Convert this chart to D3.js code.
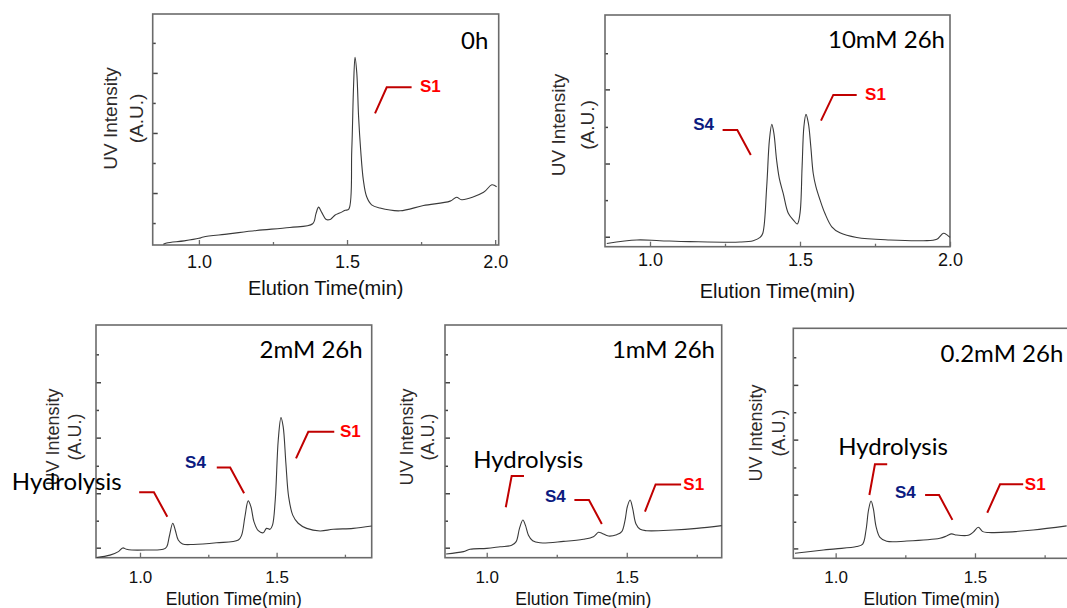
<!DOCTYPE html>
<html><head><meta charset="utf-8">
<script src="https://cdn.jsdelivr.net/npm/d3@7"></script>
<style>html,body{margin:0;padding:0;background:#fff;overflow:hidden}</style>
</head><body><svg id="c" width="1067" height="608"></svg>
<script>
// ---------- DATA (elution time in min, UV intensity in % of panel height) ----------
const titles = ["0h", "10mM 26h", "2mM 26h", "1mM 26h", "0.2mM 26h"];
const xTickLabelsTop = [1.0, 1.5, 2.0];
const xTickLabelsBottom = [1.0, 1.5];
const xMinorTicks = [1.25, 1.75];

const time0h = [0.880,0.891,0.95,1.000,1.015,1.10,1.195,1.307,1.384,1.395,1.404,1.415,1.430,1.445,1.460,1.475,1.494,1.506,1.516,1.522,1.527,1.533,1.539,1.546,1.555,1.566,1.583,1.611,1.679,1.758,1.848,1.870,1.887,1.961,1.989,2.005];
const uv0h   = [0.3,0.9,1.8,2.9,3.5,4.8,6.3,7.6,9.2,13.5,16.4,14.0,11.0,11.2,13.0,13.8,15.0,15.5,41,68.6,81.3,74.4,55.6,41.2,28.2,21.0,17.4,16.0,14.8,17.1,19.0,20.7,19.6,22.8,26.1,25.2];

const time10mM = [0.856,0.956,1.033,1.133,1.300,1.344,1.367,1.376,1.389,1.398,1.406,1.413,1.422,1.431,1.444,1.461,1.478,1.491,1.500,1.507,1.513,1.520,1.528,1.536,1.544,1.553,1.567,1.583,1.606,1.633,1.689,1.800,1.911,1.956,1.978,1.991,2.000];
const uv10mM   = [1.4,2.9,2.6,2.2,2.0,2.6,4.0,5.8,25.9,46,52.8,48.9,37.4,29.5,23.0,14.4,11.5,9.8,14.4,34.5,51.8,57.1,53.2,43.2,31.7,25.9,20.1,14.4,8.6,6.0,4.0,2.9,2.6,3.2,5.8,5.0,4.0];

const time2mM = [0.841,0.890,0.921,0.937,0.951,0.970,1.024,1.085,1.098,1.107,1.120,1.129,1.140,1.156,1.195,1.280,1.360,1.372,1.384,1.396,1.406,1.417,1.433,1.451,1.463,1.476,1.485,1.495,1.506,1.516,1.524,1.534,1.544,1.559,1.579,1.610,1.659,1.707,1.780,1.848];
const uv2mM   = [0.1,1.1,2.6,4.2,3.6,3.3,3.3,3.6,4.7,9.0,14.8,11.9,7.6,5.9,5.7,6.4,7.6,9.7,17.6,24.4,21.9,15.5,11.6,10.7,12.6,12.2,14.0,24.8,50.6,60.2,56.3,40.5,26.2,18.3,14.8,12.6,11.5,12.2,12.6,13.6];

const time1mM = [0.855,0.917,0.940,1.000,1.048,1.089,1.105,1.117,1.129,1.138,1.149,1.164,1.190,1.274,1.345,1.381,1.399,1.411,1.435,1.464,1.482,1.494,1.502,1.512,1.521,1.533,1.548,1.571,1.667,1.750,1.839];
const uv1mM   = [1.6,2.6,3.6,4.0,4.7,5.3,6.9,12.6,16.2,14.0,9.7,7.3,6.4,7.0,7.9,9.0,10.9,10.5,9.3,9.9,11.2,16.2,21.9,24.8,21.2,14.5,12.2,11.6,11.9,12.6,13.8];

const time02mM = [0.854,0.956,1.000,1.075,1.097,1.109,1.118,1.127,1.135,1.145,1.159,1.183,1.255,1.374,1.398,1.416,1.434,1.476,1.494,1.512,1.528,1.548,1.614,1.709,1.829];
const uv02mM   = [2.2,3.6,4.1,5.1,6.2,12.3,21.0,24.9,21.7,13.8,9.1,7.4,7.5,8.7,9.7,10.6,10.1,10.0,11.4,13.5,11.6,11.2,11.4,12.3,14.1];

// annotation callouts: label, label anchor [time, intensity], leader polyline [[time, intensity], ...]
const ann0h = [
  {label:"S1", at:[1.746,66.4], line:[[1.5945,57.0],[1.634,68.3],[1.718,68.3]]}
];
const ann10mM = [
  {label:"S1", at:[1.717,63.3], line:[[1.570,54.4],[1.611,65.5],[1.689,65.5]]},
  {label:"S4", at:[1.144,50.3], line:[[1.242,50.4],[1.291,50.4],[1.336,39.6]]}
];
const ann2mM = [
  {label:"S1", at:[1.732,52.0], line:[[1.571,42.7],[1.616,54.1],[1.711,54.1]]},
  {label:"S4", at:[1.165,38.4], line:[[1.281,38.8],[1.330,38.8],[1.381,27.7]]},
  {label:"Hydrolysis", at:[0.531,29.1], line:[[0.997,28.1],[1.051,28.1],[1.100,17.6]]}
];
const ann1mM = [
  {label:"S1", at:[1.702,29.1], line:[[1.565,19.8],[1.603,31.5],[1.694,31.5]]},
  {label:"S4", at:[1.208,24.1], line:[[1.313,24.8],[1.365,24.8],[1.411,14.5]]},
  {label:"Hydrolysis", at:[0.952,38.5], line:[[1.068,21.7],[1.089,35.1],[1.133,35.1]]}
];
const ann02mM = [
  {label:"S1", at:[1.679,29.7], line:[[1.544,19.8],[1.590,32.2],[1.673,32.2]]},
  {label:"S4", at:[1.213,26.2], line:[[1.321,27.5],[1.371,27.5],[1.419,16.7]]},
  {label:"Hydrolysis", at:[1.009,44.9], line:[[1.121,27.5],[1.141,40.9],[1.185,40.9]]}
];

// y tick values (no labels), long and short
const yLongTop1 = [22.5,48.5,74.5], yShortTop1 = [9.5,35.5,61.5,87.5];
const yLongTop2 = [4.3,35.9,67.9], yShortTop2 = [20.1,51.7,83.5];
const yLongBot = [4.3,27.7,51.6,75.4], yShortBot = [15.9,39.5,63.5,87.4];

// ---------- LAYOUT ----------
const panels = [
  {t:time0h, v:uv0h, ann:ann0h, title:titles[0], box:[152.7,498.7,14,245], dom:[0.844,2.012],
   xl:xTickLabelsTop, yl:yLongTop1, ys:yShortTop1, tickFs:18, tickOff:23.3, xtFs:20, xtOff:50,
   ylFs:19, yl1:110, yl2:136, ylc:118.5, titleX:488.3, titleY:49.3},
  {t:time10mM, v:uv10mM, ann:ann10mM, title:titles[1], box:[605,950,15,246.7], dom:[0.85,2.0],
   xl:xTickLabelsTop, yl:yLongTop2, ys:yShortTop2, tickFs:18, tickOff:19.8, xtFs:20, xtOff:51.6,
   ylFs:19, yl1:558, yl2:587, ylc:125, titleX:945, titleY:48.3},
  {t:time2mM, v:uv2mM, ann:ann2mM, title:titles[2], box:[96,371.7,325,557.7], dom:[0.839,1.848],
   xl:xTickLabelsBottom, yl:yLongBot, ys:yShortBot, tickFs:17, tickOff:25, xtFs:17.5, xtOff:47.3,
   ylFs:18, yl1:53, yl2:75, ylc:437, titleX:362.7, titleY:358.3},
  {t:time1mM, v:uv1mM, ann:ann1mM, title:titles[3], box:[445,721.7,325,557.7], dom:[0.851,1.839],
   xl:xTickLabelsBottom, yl:yLongBot, ys:yShortBot, tickFs:17, tickOff:25, xtFs:17.5, xtOff:47.3,
   ylFs:18, yl1:407, yl2:428, ylc:437, titleX:715, titleY:358.3},
  {t:time02mM, v:uv02mM, ann:ann02mM, title:titles[4], box:[793.3,1070,328.3,558.3], dom:[0.848,1.841],
   xl:xTickLabelsBottom, yl:yLongBot, ys:yShortBot, tickFs:17, tickOff:25, xtFs:17.5, xtOff:47,
   ylFs:18, yl1:756, yl2:779, ylc:433, titleX:1063.3, titleY:361.7}
];

const svg = d3.select("#c");
svg.append("rect").attr("width",1067).attr("height",608).attr("fill","#fff");
const AX = "#6b6b6b", ARIAL = "'Liberation Sans', Arial, sans-serif", CAL = "Lato, 'Open Sans', sans-serif";

panels.forEach(p => {
  const [x0,x1,y0,y1] = p.box;
  const x = d3.scaleLinear().domain(p.dom).range([x0,x1]);
  const y = d3.scaleLinear().domain([0,100]).range([y1,y0]);
  const g = svg.append("g");

  // x axis (ticks inward)
  const xa = g.append("g").attr("transform",`translate(0,${y1})`)
    .call(d3.axisBottom(x).tickValues(p.xl).tickSizeInner(-5).tickSizeOuter(0).tickFormat(d3.format(".1f")));
  xa.select(".domain").remove();
  xa.selectAll(".tick line").attr("stroke",AX).attr("stroke-width",1.3);
  xa.selectAll(".tick text").attr("fill","#111").attr("font-family",ARIAL).attr("font-size",p.tickFs)
    .attr("dy",null).attr("y",p.tickOff).attr("dominant-baseline","alphabetic");
  const xm = g.append("g").attr("transform",`translate(0,${y1})`)
    .call(d3.axisBottom(x).tickValues(xMinorTicks).tickSizeInner(-3).tickSizeOuter(0).tickFormat(""));
  xm.select(".domain").remove();
  xm.selectAll(".tick line").attr("stroke",AX).attr("stroke-width",1.3);

  // y axis ticks (inward, no labels)
  const ya = g.append("g").attr("transform",`translate(${x0},0)`)
    .call(d3.axisLeft(y).tickValues(p.yl).tickSizeInner(-5).tickSizeOuter(0).tickFormat(""));
  ya.select(".domain").remove();
  ya.selectAll(".tick line").attr("stroke","#444").attr("stroke-width",1.5);
  const ys = g.append("g").attr("transform",`translate(${x0},0)`)
    .call(d3.axisLeft(y).tickValues(p.ys).tickSizeInner(-3).tickSizeOuter(0).tickFormat(""));
  ys.select(".domain").remove();
  ys.selectAll(".tick line").attr("stroke","#444").attr("stroke-width",1.5);

  // frame
  g.append("rect").attr("x",x0).attr("y",y0).attr("width",x1-x0).attr("height",y1-y0)
    .attr("fill","none").attr("stroke",AX).attr("stroke-width",1.6);

  // trace
  const pts = p.t.map((d,i)=>[d,p.v[i]]);
  g.append("path").datum(pts)
    .attr("d", d3.line().x(d=>x(d[0])).y(d=>y(d[1])).curve(d3.curveCatmullRom.alpha(0.5)))
    .attr("fill","none").attr("stroke","#3a3a3a").attr("stroke-width",1.1);

  // title
  g.append("text").attr("x",p.titleX).attr("y",p.titleY).attr("text-anchor","end")
    .attr("font-family",CAL).attr("font-size",24).attr("fill","#000").text(p.title);

  // axis titles
  g.append("text").attr("x",(x0+Math.min(x1,1067+ (x1>1067? (x1-1067):0)))/2).attr("y",y1+p.xtOff)
    .attr("text-anchor","middle").attr("font-family",ARIAL).attr("font-size",p.xtFs).attr("fill","#111")
    .text("Elution Time(min)");
  [["UV Intensity",p.yl1],["(A.U.)",p.yl2]].forEach(([s,cx])=>{
    g.append("text").attr("transform",`translate(${cx},${p.ylc}) rotate(-90)`)
      .attr("text-anchor","middle").attr("dominant-baseline","central")
      .attr("font-family",ARIAL).attr("font-size",p.ylFs).attr("fill","#2e2a2a").text(s);
  });

  // annotations
  p.ann.forEach(a=>{
    g.append("path").datum(a.line)
      .attr("d", d3.line().x(d=>x(d[0])).y(d=>y(d[1])))
      .attr("fill","none").attr("stroke","#c00000").attr("stroke-width",2);
    const isHyd = a.label==="Hydrolysis";
    g.append("text").attr("x",x(a.at[0])).attr("y",y(a.at[1]))
      .attr("font-family", isHyd ? CAL : ARIAL)
      .attr("font-size", isHyd ? 24 : 17)
      .attr("font-weight", isHyd ? "normal" : "bold")
      .attr("fill", a.label==="S1" ? "#ff0000" : a.label==="S4" ? "#0b1a80" : "#000")
      .text(a.label);
  });
});
</script></body></html>
